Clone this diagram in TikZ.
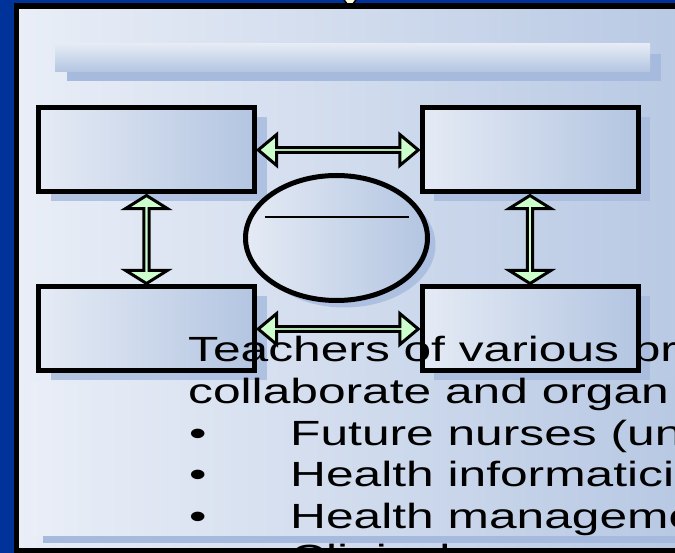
\documentclass[tikz,border=0pt]{standalone}
\usepackage{fontspec}
\setmainfont{Liberation Sans}
\usetikzlibrary{shapes.geometric, shapes.arrows, shadows, positioning}
\definecolor{slideblue}{HTML}{003399}
\definecolor{panellight}{HTML}{E9EEF7}
\definecolor{paneldark}{HTML}{B7C8E3}
\definecolor{boxlight}{HTML}{E5EBF5}
\definecolor{boxdark}{HTML}{B3C5E1}
\definecolor{shadowblue}{HTML}{A6BADE}
\definecolor{linkgreen}{HTML}{CCFFCC}
\definecolor{tipcream}{HTML}{FFFFDD}
\tikzset{
    cell/.style = {draw, rectangle, line width=5pt, minimum width=216pt, minimum height=84pt, inner sep=0pt,
        left color=boxlight, right color=boxdark,
        drop shadow={shadow xshift=12pt, shadow yshift=-9pt, fill=shadowblue, opacity=.8}},
    hub/.style = {draw, ellipse, line width=5pt, minimum width=182pt, minimum height=125pt, inner sep=0pt,
        left color=boxlight, right color=boxdark,
        drop shadow={shadow xshift=8pt, shadow yshift=-7pt, fill=shadowblue, opacity=.8}},
}
\tikzset{
    link/.style = {double arrow, draw, line width=3pt, fill=linkgreen, inner sep=0pt, midway},
    linkh/.style = {link, minimum width=31pt, double arrow head extend=8pt, double arrow tip angle=80, minimum height=160pt},
    linkv/.style = {link, shape border rotate=90, minimum width=42pt, double arrow head extend=11pt, double arrow tip angle=116, minimum height=88pt},
    bodytext/.style = {anchor=base west, inner sep=0pt, font=\fontsize{35}{42}\selectfont},
}
\newcommand{\stretchx}[1]{\scalebox{1.42}[1]{#1}}
\begin{document}
\begin{tikzpicture}[x=1pt, y=-1pt]
    \useasboundingbox (0,0) rectangle (675,553);
    \fill[slideblue] (0,0) rectangle (675,553);
    \filldraw[fill=tipcream, line width=1.5pt] (342,-3) -- (358,-3) -- (350,8) -- cycle;
    \fill[left color=panellight, right color=paneldark] (16.5,6) rectangle (700,551);

    \fill[shadowblue] (67,54) rectangle (661,81);
    \fill[top color=boxlight, bottom color=boxdark] (55,44) rectangle (650,72);

    \fill[shadowblue] (43,392) rectangle (690,543);
    \fill[left color=panellight, right color=paneldark] (31,383) rectangle (690,535);

    \node[cell] (tl) at (146.5,150) {};
    \node[cell] (tr) at (530,150) {};
    \node[cell] (bl) at (146.5,329) {};
    \node[cell] (br) at (530,329) {};

    \node[hub] (core) at (336.5,238) {};
    \draw[line width=2pt] ([shift={(-72,-21)}]core.center) -- ([shift={(72,-21)}]core.center);

    \path (tl) -- (tr) node[linkh] (tltr) {};
    \path (bl) -- (br) node[linkh] (blbr) {};
    \path (tl) -- (bl) node[linkv] (tlbl) {};
    \path (tr) -- (br) node[linkv] (trbr) {};

    \node[bodytext] (line1) at (188,362) {\stretchx{Teachers of various pr}};
    \node[bodytext] (line2) at (188,403.5) {\stretchx{collaborate and organ}};
    \node[bodytext] (dot1) at (189,445) {\stretchx{•}};
    \node[bodytext] (line3) at (290,445) {\stretchx{Future nurses (un}};
    \node[bodytext] (dot2) at (189,486.5) {\stretchx{•}};
    \node[bodytext] (line4) at (290,486.5) {\stretchx{Health informatici}};
    \node[bodytext] (dot3) at (189,528) {\stretchx{•}};
    \node[bodytext] (line5) at (290,528) {\stretchx{Health manageme}};
    \node[bodytext] (line6) at (290,569.5) {\stretchx{Clinical}};

    \draw[line width=5.5pt] (16.5,6) rectangle (700,551);
\end{tikzpicture}
\end{document}
